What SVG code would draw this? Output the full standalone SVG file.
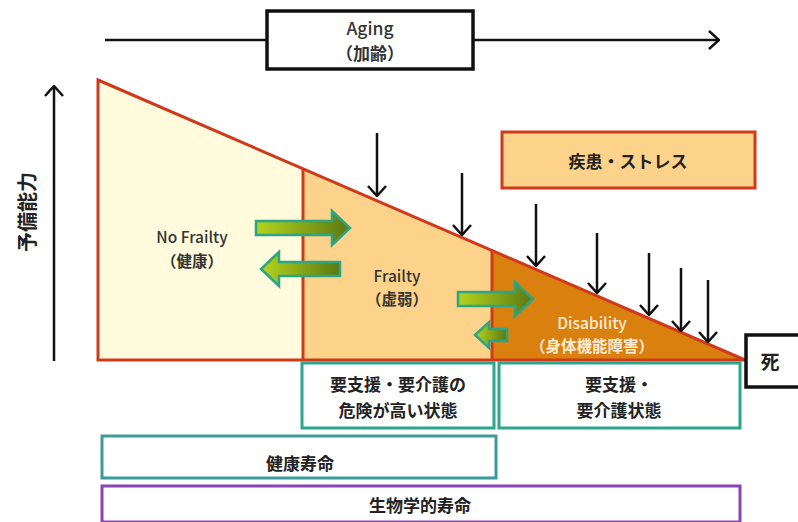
<svg xmlns="http://www.w3.org/2000/svg" width="798" height="522" viewBox="0 0 798 522">
  <style>
    .lbl { font-family: "Noto Sans CJK JP", "Liberation Sans", sans-serif; font-weight: bold; fill: #222; text-anchor: middle; dominant-baseline: central; }
    .en { font-family: "Noto Sans CJK JP", "Liberation Sans", sans-serif; font-size: 15.5px; font-weight: 500; fill: #333; text-anchor: middle; dominant-baseline: central; }
    .jp { font-family: "Noto Sans CJK JP", sans-serif; font-size: 15.5px; font-weight: bold; fill: #333; text-anchor: middle; dominant-baseline: central; }
    .pale { fill: #fcecd4; }
    .blk { fill: none; stroke: #111; stroke-width: 2.5; }
    .redline { fill: none; stroke: #cf3a1c; stroke-width: 3; }
    .teal { fill: #fff; stroke: #2ba58c; stroke-width: 3; }
    .garrow { fill: url(#gflow); stroke: #2aa586; stroke-width: 2.5; stroke-linejoin: miter; }
  </style>
  <defs>
    <linearGradient id="gflow" x1="0" y1="0" x2="1" y2="0">
      <stop offset="0" stop-color="#b4d41e"/>
      <stop offset="1" stop-color="#5a7812"/>
    </linearGradient>
    <marker id="chev" viewBox="0 0 12 20" refX="11" refY="10" markerWidth="12" markerHeight="20" markerUnits="userSpaceOnUse" orient="auto">
      <path d="M1,1 L11,10 L1,19" fill="none" stroke="#111" stroke-width="2.5"/>
    </marker>
  </defs>

  <!-- Aging time axis -->
  <g id="aging">
    <line x1="105" y1="40" x2="719" y2="40" class="blk" marker-end="url(#chev)"/>
    <rect x="267" y="11" width="206" height="58" fill="#fff" stroke="#111" stroke-width="3.5"/>
    <text x="370" y="27" class="en" font-size="17.5" style="font-size:17.5px">Aging</text>
    <text x="370" y="52" class="jp" style="font-size:17px">（加齢）</text>
  </g>

  <!-- reserve capacity axis -->
  <g id="reserve">
    <line x1="54" y1="361" x2="54" y2="86" class="blk" marker-end="url(#chev)"/>
    <text class="lbl" font-size="20" transform="translate(26,212) rotate(-90)">予備能力</text>
  </g>

  <!-- state areas -->
  <g id="no-frailty">
    <polygon points="98,80 303,169 303,360 98,360" fill="#fffbdc"/>
    <text x="192" y="236" class="en">No Frailty</text>
    <text x="192" y="260" class="jp">（健康）</text>
  </g>
  <g id="frailty">
    <polygon points="303,169 492,251 492,360 303,360" fill="#fdd38b"/>
    <text x="397" y="275" class="en">Frailty</text>
    <text x="397" y="298" class="jp">（虚弱）</text>
  </g>
  <g id="disability">
    <polygon points="492,251 745,360 492,360" fill="#d9800f"/>
    <text x="592" y="322" class="en pale">Disability</text>
    <text x="592" y="345" class="jp pale">（身体機能障害）</text>
  </g>
  <g id="area-outline">
    <polygon points="98,80 745,360 98,360" class="redline"/>
    <line x1="303" y1="169" x2="303" y2="360" class="redline"/>
    <line x1="492" y1="251" x2="492" y2="360" class="redline"/>
  </g>

  <!-- disease / stress -->
  <g id="stress">
    <rect x="502" y="132" width="253" height="56" fill="#fdd38b" stroke="#cf3a1c" stroke-width="3"/>
    <text x="628" y="160" class="lbl" font-size="17">疾患・ストレス</text>
  </g>

  <g id="death">
    <rect x="746" y="335" width="60" height="52" fill="#fff" stroke="#111" stroke-width="3.5"/>
    <text x="770" y="360" class="lbl" font-size="19">死</text>
  </g>

  <!-- connectors: stress impacts and transitions -->
  <g id="connectors">
    <line x1="377" y1="133" x2="377" y2="196" class="blk" marker-end="url(#chev)"/>
    <line x1="462" y1="173" x2="462" y2="235" class="blk" marker-end="url(#chev)"/>
    <line x1="536" y1="204" x2="536" y2="266" class="blk" marker-end="url(#chev)"/>
    <line x1="597" y1="233" x2="597" y2="293" class="blk" marker-end="url(#chev)"/>
    <line x1="649" y1="253" x2="649" y2="315" class="blk" marker-end="url(#chev)"/>
    <line x1="681" y1="268" x2="681" y2="331" class="blk" marker-end="url(#chev)"/>
    <line x1="708" y1="280" x2="708" y2="342" class="blk" marker-end="url(#chev)"/>

    <polygon class="garrow" points="256,221 332,221 332,211 350,228 332,245 332,235 256,235"/>
    <polygon class="garrow" points="340,262 279,262 279,252 261,269 279,286 279,276 340,276"/>
    <polygon class="garrow" points="458,292 515,292 515,282 533,299 515,316 515,306 458,306"/>
    <polygon class="garrow" points="507,329 489,329 489,322 475,335 489,348 489,341 507,341"/>
  </g>

  <!-- care status -->
  <g id="risk-state">
    <rect x="302" y="363" width="192" height="65" class="teal"/>
    <text x="398" y="383" class="lbl" font-size="17">要支援・要介護の</text>
    <text x="398" y="409" class="lbl" font-size="17">危険が高い状態</text>
  </g>
  <g id="care-state">
    <rect x="499" y="363" width="241" height="65" class="teal"/>
    <text x="619" y="383" class="lbl" font-size="17">要支援・</text>
    <text x="619" y="409" class="lbl" font-size="17">要介護状態</text>
  </g>

  <!-- life spans -->
  <g id="healthy-life">
    <rect x="102" y="436" width="394" height="42" fill="#fff" stroke="#3b9a9c" stroke-width="3"/>
    <text x="300" y="462" class="lbl" font-size="17">健康寿命</text>
  </g>
  <g id="biological-life">
    <rect x="102" y="486" width="638" height="36" fill="#fff" stroke="#8a45b5" stroke-width="3"/>
    <text x="420" y="504" class="lbl" font-size="17">生物学的寿命</text>
  </g>
</svg>
